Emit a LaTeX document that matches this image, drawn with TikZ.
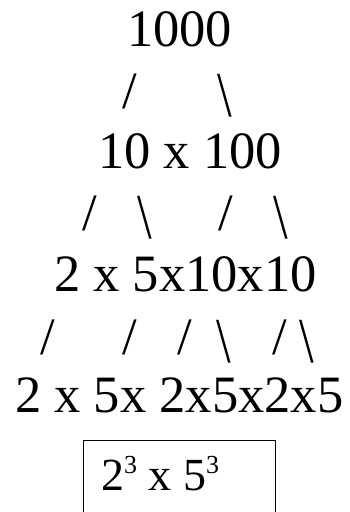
\documentclass[tikz,border=0pt]{standalone}
\usepackage{fontspec}
\usepackage{graphicx}
\setmainfont{Liberation Serif}
\newcommand{\bsl}{\scalebox{1}[1.22]{\char`\\}}
\begin{document}
\begin{tikzpicture}[x=1pt,y=-1pt,
  row/.style={anchor=base west,inner sep=0pt,font=\fontsize{52.5}{60}\selectfont},
  sl/.style={anchor=base,inner sep=0pt,font=\fontsize{52.5}{60}\selectfont},
  boxtext/.style={anchor=base west,inner sep=0pt,font=\fontsize{46}{52}\selectfont},
  frame/.style={draw,line width=1pt}]
\useasboundingbox (0,0) rectangle (350,512);
\node[row] (r1) at (127,46.5) {1000};
\node[sl] (s11) at (130,108) {/};
\node[sl] (s12) at (225,116) {\bsl};
\node[row] (r2) at (98,168.5) {10 x 100};
\node[sl] (s21) at (90,230) {/};
\node[sl] (s22) at (145,238) {\bsl};
\node[sl] (s23) at (226,230) {/};
\node[sl] (s24) at (281,238) {\bsl};
\node[row] (r3) at (54,291.5) {2 x 5x10x10};
\node[sl] (s31) at (48,354) {/};
\node[sl] (s32) at (130,354) {/};
\node[sl] (s33) at (185,354) {/};
\node[sl] (s34) at (224,362) {\bsl};
\node[sl] (s35) at (280,354) {/};
\node[sl] (s36) at (307,362) {\bsl};
\node[row] (r4) at (15,412.5) {2 x 5x 2x5x2x5};
\draw[frame] (83,440) rectangle (275,530);
\node[boxtext] (res) at (101,490) {2\raisebox{17pt}{\fontsize{26}{26}\selectfont 3} x 5\raisebox{17pt}{\fontsize{26}{26}\selectfont 3}};
\end{tikzpicture}
\end{document}
